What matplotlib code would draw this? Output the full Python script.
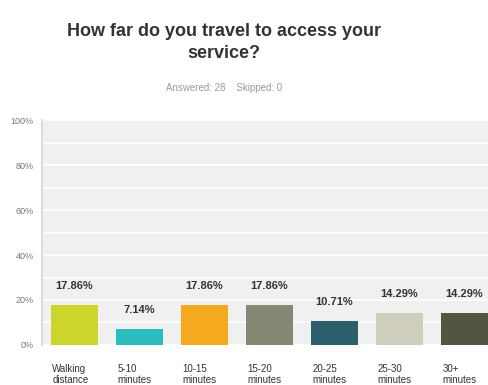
import matplotlib.pyplot as plt

categorias = ["Walking\ndistance", "5-10\nminutes", "10-15\nminutes", "15-20\nminutes",
              "20-25\nminutes", "25-30\nminutes", "30+\nminutes"]
valores = [17.86, 7.14, 17.86, 17.86, 10.71, 14.29, 14.29]
colores = ["#cdd42a", "#2bbcbd", "#f5a91e", "#858872", "#2c5e6b", "#cfcdbd", "#545443"]
ticks_y = [0, 20, 40, 60, 80, 100]

plt.rcParams['font.family'] = ['Liberation Sans', 'DejaVu Sans']

fig = plt.figure(figsize=(4.89, 3.85), dpi=100)
ax = fig.add_axes([0.086, 0.104, 0.93, 0.584])
ax.set_facecolor("#f0f0f0")

# --- barras ---
ancho = 0.72
xs = list(range(len(valores)))
ax.bar(xs, valores, width=ancho, color=colores, zorder=3)
for x, v in zip(xs, valores):
    ax.text(x, v + 6, f"{v:.2f}%", ha='center', va='bottom', fontsize=8,
            fontweight='bold', color='#333333')

# --- ejes ---
ax.set_xlim(-0.5, len(valores) - 0.5)
ax.set_ylim(0, 100)
ax.set_yticks(range(0, 101, 10))
ax.set_yticklabels([f"{t}%" if t in ticks_y else "" for t in range(0, 101, 10)],
                   fontsize=6.5, color='#777777')
ax.grid(axis='y', color='white', lw=1.2, zorder=1)
ax.tick_params(axis='y', length=0, pad=6)
ax.set_xticks([])
for lado in ['top', 'right', 'bottom']:
    ax.spines[lado].set_visible(False)
ax.spines['left'].set_color('#dddddd')
ax.spines['left'].set_linewidth(1.5)

# etiquetas de categoria alineadas a la izquierda de cada barra
for x, c in zip(xs, categorias):
    ax.text(x - ancho / 2 + 0.02, -8.5, c, ha='left', va='top', fontsize=7,
            color='#333333', linespacing=1.15, clip_on=False)

# --- titulos ---
fig.text(0.458, 0.94, "How far do you travel to access your\nservice?", ha='center',
         va='top', fontsize=13, fontweight='bold', color='#333333', linespacing=1.35)
fig.text(0.458, 0.772, "Answered: 28    Skipped: 0", ha='center', va='center',
         fontsize=7, color='#999999')

fig.savefig("out.png", dpi=100)
